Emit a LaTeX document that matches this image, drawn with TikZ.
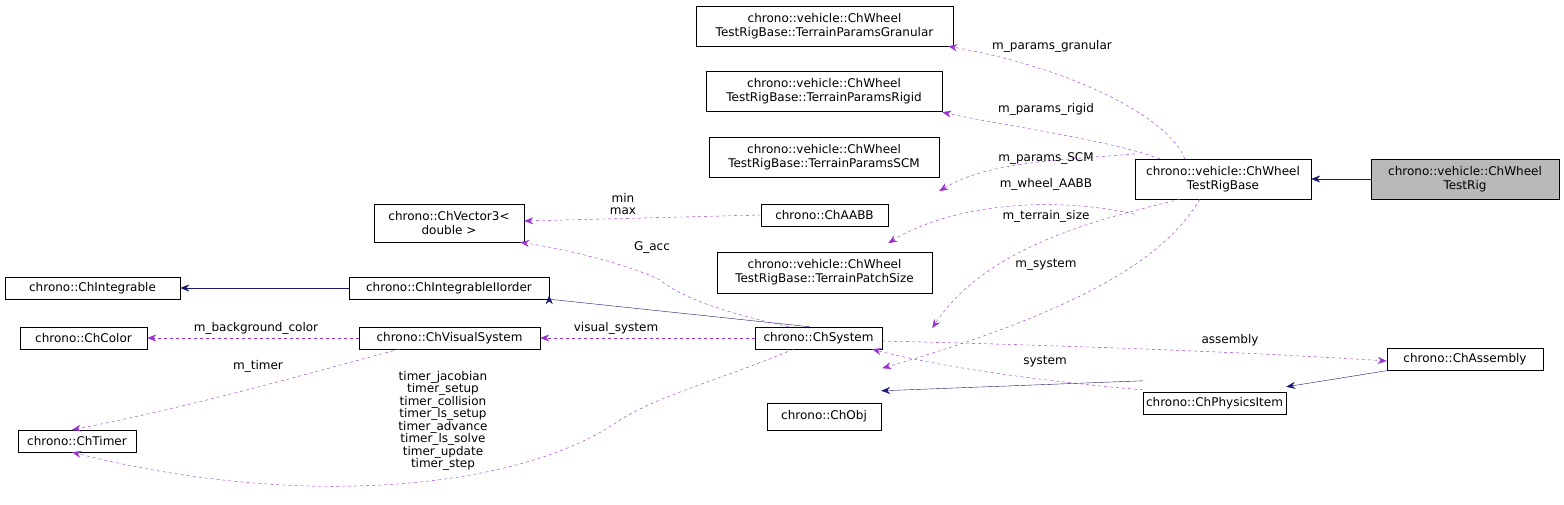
\documentclass[tikz,border=0pt]{standalone}
\usepackage{fontspec}
\setmainfont{DejaVu Sans}
\usetikzlibrary{arrows.meta}
\definecolor{edgep}{HTML}{9A32CD}
\definecolor{edgen}{HTML}{191970}
\begin{document}
\begin{tikzpicture}[x=1pt,y=-1pt,
  box/.style={draw,thin,fill=white,inner sep=0pt,font=\fontsize{12}{14}\selectfont,align=center},
  lbl/.style={font=\fontsize{12}{12.5}\selectfont,inner sep=1pt,align=center},
  uses/.style={edgep,dashed,thin,-{Stealth[length=9pt,width=7pt]}},
  inh/.style={edgen,thin,-{Stealth[length=9pt,width=7pt]}}]
\useasboundingbox (0,0) rectangle (1564,505);
\newcommand{\bx}[6]{\node[box,minimum width=#4-#2,minimum height=#5-#3,#6] (#1) at ({(#2+#4)/2},{(#3+#5)/2}) {};}
\bx{rig}{1371}{159}{1559}{199}{fill=gray!55}
\node[box,draw=none,fill=none] at (rig) {chrono::vehicle::ChWheel\\TestRig};
\bx{base}{1135}{159}{1311}{199}{}
\node[box,draw=none,fill=none] at (base) {chrono::vehicle::ChWheel\\TestRigBase};
\bx{gran}{696}{6}{953}{46}{}
\node[box,draw=none,fill=none] at (gran) {chrono::vehicle::ChWheel\\TestRigBase::TerrainParamsGranular};
\bx{rigid}{706}{71}{942}{111}{}
\node[box,draw=none,fill=none] at (rigid) {chrono::vehicle::ChWheel\\TestRigBase::TerrainParamsRigid};
\bx{scm}{709}{137}{939}{177}{}
\node[box,draw=none,fill=none] at (scm) {chrono::vehicle::ChWheel\\TestRigBase::TerrainParamsSCM};
\bx{aabb}{761}{204}{888}{226}{}
\node[box,draw=none,fill=none] at (aabb) {chrono::ChAABB};
\bx{vec}{374}{204}{524}{242}{}
\node[box,draw=none,fill=none] at (vec) {chrono::ChVector3<\\double >};
\bx{patch}{717}{252}{932}{293}{}
\node[box,draw=none,fill=none] at (patch) {chrono::vehicle::ChWheel\\TestRigBase::TerrainPatchSize};
\bx{integ}{5}{277}{180}{299}{}
\node[box,draw=none,fill=none] at (integ) {chrono::ChIntegrable};
\bx{iio}{349}{277}{549}{299}{}
\node[box,draw=none,fill=none] at (iio) {chrono::ChIntegrableIIorder};
\bx{color}{20}{327}{147}{349}{}
\node[box,draw=none,fill=none] at (color) {chrono::ChColor};
\bx{vis}{359}{327}{540}{349}{}
\node[box,draw=none,fill=none] at (vis) {chrono::ChVisualSystem};
\bx{sys}{755}{327}{882}{349}{}
\node[box,draw=none,fill=none] at (sys) {chrono::ChSystem};
\bx{asm}{1387}{348}{1543}{370}{}
\node[box,draw=none,fill=none] at (asm) {chrono::ChAssembly};
\bx{phys}{1143}{392}{1286}{414}{}
\node[box,draw=none,fill=none] at (phys) {chrono::ChPhysicsItem};
\bx{obj}{767}{403}{881}{430}{}
\node[box,draw=none,fill=none] at (obj) {chrono::ChObj};
\bx{timer}{18}{430}{136}{452}{}
\node[box,draw=none,fill=none] at (timer) {chrono::ChTimer};
% inheritance
\draw[inh] (rig.west) -- (base.east);
\draw[inh] (iio.west) -- (integ.east);
\draw[inh] (sys.north west) ++(55,0) -- (iio.south east) ++(0,-4);
\draw[inh] ([xshift=3]asm.south west) -- ([yshift=5]phys.north east);
\draw[inh] ([yshift=11]phys.north west) -- ([yshift=12]obj.north east);
% usage
\draw[uses] ([xshift=50]base.north west) .. controls (1170,120) and (1080,70) .. ([xshift=-5]gran.south east);
\node[lbl] at (1052,46) {m\_params\_granular};
\draw[uses] ([xshift=25]base.north west) .. controls (1110,140) and (1000,125) .. ([yshift=-1]rigid.south east);
\node[lbl] at (1046,109) {m\_params\_rigid};
\draw[uses] ([xshift=0,yshift=5]base.north west) .. controls (1070,160) and (990,160) .. ([yshift=-14]scm.south east);
\node[lbl] at (1046,158) {m\_params\_SCM};
\draw[uses] ([yshift=-15]base.south west) .. controls (1050,195) and (950,205) .. ([yshift=-17]aabb.south east);
\node[lbl] at (1046,184) {m\_wheel\_AABB};
\draw[uses] ([xshift=45]base.south west) .. controls (1120,215) and (990,240) .. ([yshift=-35]patch.south east);
\node[lbl] at (1046,216) {m\_terrain\_size};
\draw[uses] ([xshift=65]base.south west) .. controls (1170,250) and (1100,305) .. ([yshift=-19]sys.south east);
\node[lbl] at (1046,265) {m\_system};
\draw[uses] (aabb.west) ++(0,0) -- ([yshift=2]vec.east);
\node[lbl] at (623,204) {min\\max};
\draw[uses] ([xshift=-30]sys.north) .. controls (760,320) and (690,305) .. (660,280) .. controls (630,265) and (570,250) .. ([xshift=-4]vec.south east);
\node[lbl] at (652,247) {G\_acc};
\draw[uses] (sys.west) -- (vis.east);
\node[lbl] at (616,328) {visual\_system};
\draw[uses] (vis.west) -- (color.east);
\node[lbl] at (256,328) {m\_background\_color};
\draw[uses] ([xshift=-50]vis.south) .. controls (320,370) and (200,405) .. ([xshift=-5]timer.north);
\node[lbl] at (258,366) {m\_timer};
\draw[uses] ([xshift=-25]sys.south) .. controls (720,380) and (660,395) .. (620,420) .. controls (520,490) and (300,510) .. ([xshift=-5]timer.south);
\node[lbl] at (443,421) {timer\_jacobian\\timer\_setup\\timer\_collision\\timer\_ls\_setup\\timer\_advance\\timer\_ls\_solve\\timer\_update\\timer\_step};
\draw[uses] ([yshift=-3]sys.east) .. controls (1050,345) and (1250,352) .. ([yshift=-2]asm.west);
\node[lbl] at (1230,340) {assembly};
\draw[uses] ([xshift=0,yshift=2]phys.north west) .. controls (1080,385) and (950,370) .. ([xshift=-10]sys.south east);
\node[lbl] at (1045,362) {system};
\end{tikzpicture}
\end{document}
